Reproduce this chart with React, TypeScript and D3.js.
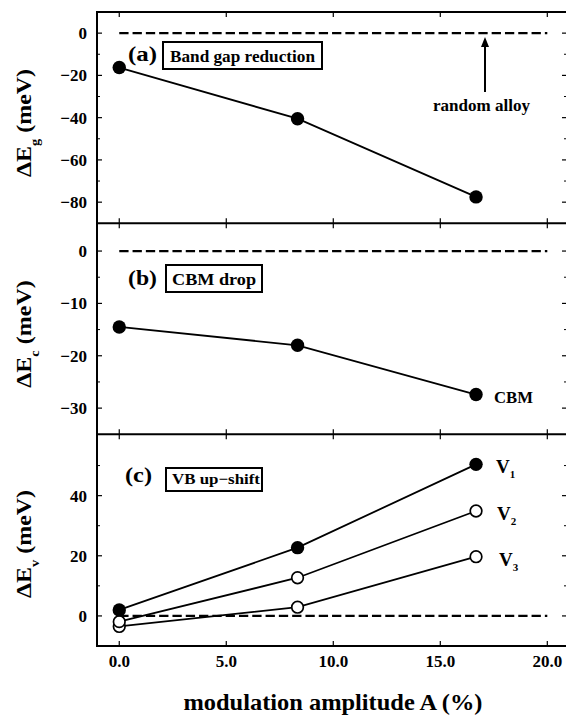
import React from "react";
import * as d3 from "d3";

// ---- data ----
const amplitudes = [0, 8.33, 16.67];
const bandGapShift = [-16.3, -40.5, -77.5];
const cbmShift = [-14.5, -18.0, -27.4];
const v1Shift = [2.0, 22.7, 50.4];
const v2Shift = [-1.9, 12.7, 34.9];
const v3Shift = [-3.5, 2.9, 19.7];
const xTicks = [0, 5, 10, 15, 20];
const xTickLabels = ["0.0", "5.0", "10.0", "15.0", "20.0"];
const aTicks = [0, -20, -40, -60, -80];
const aMinor = [-10, -30, -50, -70];
const bTicks = [0, -10, -20, -30];
const bMinor = [-5, -15, -25];
const cTicks = [0, 20, 40];
const cMinor = [10, 30, 50];

const W = 566;
const H = 715;
const FONT = "'Liberation Serif', 'Times New Roman', serif";
const L = 97;
const R = 567;

const x = d3.scaleLinear().domain([-1.04, 20.92]).range([L, R]);

type Panel = {
  top: number;
  bottom: number;
  domain: [number, number];
  ticks: number[];
  minor: number[];
};

const panels: Panel[] = [
  { top: 12, bottom: 223.3, domain: [-90, 10], ticks: aTicks, minor: aMinor },
  { top: 223.3, bottom: 434.3, domain: [-35, 5.3], ticks: bTicks, minor: bMinor },
  { top: 434.3, bottom: 646, domain: [-10, 60.4], ticks: cTicks, minor: cMinor },
];

const fmt = (v: number) => (v < 0 ? "\u2212" + Math.abs(v) : String(v));

function Frame({ p, y }: { p: Panel; y: d3.ScaleLinear<number, number> }) {
  return (
    <g>
      {xTicks.map((t) => (
        <g key={"xt" + t}>
          <line x1={x(t)} x2={x(t)} y1={p.top} y2={p.top + 5} stroke="#000" strokeWidth={1.2} />
          <line x1={x(t)} x2={x(t)} y1={p.bottom} y2={p.bottom - 5} stroke="#000" strokeWidth={1.2} />
        </g>
      ))}
      {p.ticks.map((t) => (
        <g key={"yt" + t}>
          <line x1={L} x2={L + 5} y1={y(t)} y2={y(t)} stroke="#000" strokeWidth={1.2} />
          <line x1={R} x2={R - 5} y1={y(t)} y2={y(t)} stroke="#000" strokeWidth={1.2} />
          <text
            x={87}
            y={y(t) + 6}
            textAnchor="end"
            fontSize={17}
            fontWeight="bold"
            fontFamily={FONT}
          >
            {fmt(t)}
          </text>
        </g>
      ))}
      {p.minor.map((t) => (
        <g key={"ym" + t}>
          <line x1={L} x2={L + 3} y1={y(t)} y2={y(t)} stroke="#000" strokeWidth={1} />
          <line x1={R} x2={R - 3} y1={y(t)} y2={y(t)} stroke="#000" strokeWidth={1} />
        </g>
      ))}
      <line x1={x(0)} x2={x(20)} y1={y(0)} y2={y(0)} stroke="#000" strokeWidth={2.2} strokeDasharray="9.3,4" />
    </g>
  );
}

function Series({
  y,
  values,
  filled,
}: {
  y: d3.ScaleLinear<number, number>;
  values: number[];
  filled: boolean;
}) {
  const pts = amplitudes.map((a, i) => [x(a), y(values[i])] as [number, number]);
  const path = d3.line()(pts) || "";
  return (
    <g>
      <path d={path} fill="none" stroke="#000" strokeWidth={1.8} />
      {pts.map((p, i) => (
        <circle
          key={i}
          cx={p[0]}
          cy={p[1]}
          r={filled ? 6.7 : 5.8}
          fill={filled ? "#000" : "#fff"}
          stroke="#000"
          strokeWidth={filled ? 0 : 1.7}
        />
      ))}
    </g>
  );
}

function YTitle({ cy, sub }: { cy: number; sub: string }) {
  return (
    <text
      transform={`translate(31,${cy}) rotate(-90) scale(1.2,1)`}
      textAnchor="middle"
      fontSize={20}
      fontWeight="bold"
      fontFamily={FONT}
    >
      <tspan>ΔE</tspan>
      <tspan fontSize={12} dy={8}>{sub}</tspan>
      <tspan dy={-8}> (meV)</tspan>
    </text>
  );
}

function Label({ x0, y0, text, size, len }: { x0: number; y0: number; text: string; size: number; len?: number }) {
  return (
    <text
      x={x0}
      y={y0}
      fontSize={size}
      fontWeight="bold"
      fontFamily={FONT}
      textLength={len}
      lengthAdjust={len ? "spacingAndGlyphs" : undefined}
    >
      {text}
    </text>
  );
}

export default function App() {
  const ys = panels.map((p) => d3.scaleLinear().domain(p.domain).range([p.bottom, p.top]));
  return (
    <div style={{ position: "fixed", left: 0, top: 0 }}>
      <svg width={W} height={H} style={{ display: "block", background: "#fff" }}>
        {panels.map((p, i) => (
          <Frame key={i} p={p} y={ys[i]} />
        ))}
        {/* frame borders */}
        <rect x={L} y={panels[0].top} width={R - L} height={panels[2].bottom - panels[0].top} fill="none" stroke="#000" strokeWidth={2} />
        <line x1={L} x2={R} y1={panels[1].top} y2={panels[1].top} stroke="#000" strokeWidth={2} />
        <line x1={L} x2={R} y1={panels[2].top} y2={panels[2].top} stroke="#000" strokeWidth={2} />

        {/* panel a */}
        <Series y={ys[0]} values={bandGapShift} filled={true} />
        <Label x0={128} y0={61} text="(a)" size={20} len={29} />
        <rect x={163} y={42} width={159} height={27} fill="#fff" stroke="#000" strokeWidth={2} />
        <Label x0={170} y0={62} text="Band gap reduction" size={17} len={145} />
        <Label x0={433} y0={111} text="random alloy" size={17} len={97} />
        <line x1={485} x2={485} y1={92} y2={44} stroke="#000" strokeWidth={2} />
        <path d="M485,37 L481,47 L489,47 Z" fill="#000" />

        {/* panel b */}
        <Series y={ys[1]} values={cbmShift} filled={true} />
        <Label x0={128} y0={285} text="(b)" size={20} len={29} />
        <rect x={166} y={265} width={96} height={27} fill="#fff" stroke="#000" strokeWidth={2} />
        <Label x0={172} y0={285} text="CBM drop" size={16} len={84} />
        <Label x0={494} y0={403} text="CBM" size={17} len={39} />

        {/* panel c */}
        <Series y={ys[2]} values={v3Shift} filled={false} />
        <Series y={ys[2]} values={v2Shift} filled={false} />
        <Series y={ys[2]} values={v1Shift} filled={true} />
        <Label x0={125} y0={482} text="(c)" size={20} len={27} />
        <rect x={166} y={468} width={96} height={23} fill="#fff" stroke="#000" strokeWidth={2} />
        <Label x0={172} y0={484} text="VB up−shift" size={15} len={88} />
        {[
          { t: "1", yy: 473, xx: 496 },
          { t: "2", yy: 520, xx: 497 },
          { t: "3", yy: 566, xx: 499 },
        ].map((v) => (
          <text key={v.t} x={v.xx} y={v.yy} fontSize={19} fontWeight="bold" fontFamily={FONT}>
            V<tspan fontSize={11} dy={5}>{v.t}</tspan>
          </text>
        ))}

        {/* x tick labels */}
        {xTicks.map((t, i) => (
          <text key={t} x={x(t)} y={667} textAnchor="middle" fontSize={17} fontWeight="bold" fontFamily={FONT}>
            {xTickLabels[i]}
          </text>
        ))}

        {/* axis titles */}
        <YTitle cy={123} sub="g" />
        <YTitle cy={334} sub="c" />
        <YTitle cy={544} sub="v" />
        <text x={333} y={710} textAnchor="middle" fontSize={23} fontWeight="bold" fontFamily={FONT} textLength={299} lengthAdjust="spacingAndGlyphs">
          modulation amplitude A (%)
        </text>
      </svg>
    </div>
  );
}
